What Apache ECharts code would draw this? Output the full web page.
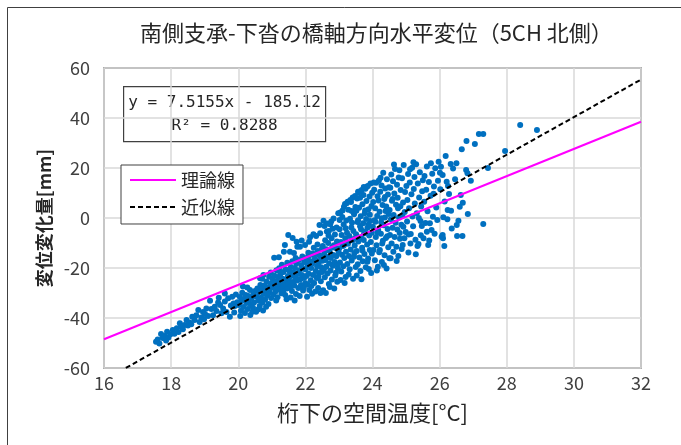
<!DOCTYPE html>
<html><head><meta charset="utf-8">
<script src="https://cdn.jsdelivr.net/npm/echarts@6/dist/echarts.min.js"></script>
<style>html,body{margin:0;padding:0;background:#fff}#c{width:681px;height:445px}</style>
</head><body><div id="c"></div>
<script>
const chartTitle = '南側支承-下沓の橋軸方向水平変位（5CH 北側）';
const xAxisName = '桁下の空間温度[°C]';
const yAxisName = '変位変化量[mm]';
const xTicks = [16, 18, 20, 22, 24, 26, 28, 30, 32];
const yTicks = [-60, -40, -20, 0, 20, 40, 60];
const theoryName = '理論線';
const fitName = '近似線';
const theoryLine = [[16, -48.5], [32, 38.5]];
const fitSlope = 7.5155;
const fitIntercept = -185.12;
const fitR2 = 0.8288;
const fitRange = [16.65, 32];
const obsPoints = [
[17.55,-49.5],[17.6,-48.6],[17.7,-46.4],[17.75,-48],[17.8,-47.2],[17.88,-45.5],[17.92,-47.8],[17.98,-46.5],[17.65,-50.2],[17.85,-49],
[18.05,-44.8],[18.1,-46.3],[18.17,-44.1],[18.22,-45.6],[18.26,-42.1],[18.3,-43.4],[18.35,-44.5],[18.4,-42.8],[18.46,-40.8],[18.5,-43],
[18.55,-41.8],[18.6,-42.5],[18.63,-39.5],[18.7,-40.8],[18.75,-38.9],[18.81,-36.8],[18.85,-41.6],[18.9,-39.8],[18.95,-37.6],[18.98,-40.5],
[19.01,-38.4],[19.05,-36.2],[19.1,-39.2],[19.16,-33.1],[19.2,-36.4],[19.25,-38.9],[19.3,-35.5],[19.35,-37.2],[19.4,-33.8],[19.46,-34.8],[19.5,-38.1],[19.42,-31.9],
[19.55,-36.2],[19.6,-33.4],[19.65,-37.6],[19.7,-32.1],[19.75,-39.5],[19.78,-35],[19.82,-31.5],[19.86,-34.2],[19.9,-35.2],[19.93,-30.6],[19.97,-33.7],[19.6,-30.2],[19.88,-37.8],
[20.02,-34.8],[20.05,-31.6],[20.08,-37.1],[20.1,-33.2],[20.12,-29.9],[20.15,-35.6],[20.18,-32.4],[20.2,-38],[20.22,-30.8],[20.25,-34],[20.28,-36.4],[20.3,-31.2],[20.32,-33.6],[20.35,-28.8],[20.38,-35],[20.4,-32],[20.42,-37.5],[20.45,-30.4],[20.47,-33.8],[20.5,-29.2],[20.36,-38.8],[20.14,-27.4],[20.27,-27.8],[20.44,-35.9],[20.06,-39.2],
[20.53,-37.5],[20.55,-31.5],[20.57,-28.2],[20.6,-33],[20.62,-29.6],[20.64,-35.2],[20.66,-26.8],[20.68,-31.9],[20.7,-28.5],[20.72,-33.8],[20.75,-22.8],[20.76,-30.3],[20.78,-27.1],[20.8,-32.6],[20.82,-29],[20.84,-25.4],[20.86,-31],[20.88,-27.7],[20.9,-34.4],[20.92,-23.5],[20.94,-29.8],[20.96,-26.2],[20.98,-32],[20.59,-36.6],[20.71,-24.3],[20.83,-35.5],[20.91,-28.3],[20.65,-24.1],[20.97,-21.8],[20.74,-37],
[21.01,-27.9],[21.03,-24.5],[21.05,-30.6],[21.07,-15.9],[21.08,-23.1],[21.1,-26.8],[21.12,-29.3],[21.14,-20.9],[21.15,-25.4],[21.17,-31.7],[21.19,-23.7],[21.2,-27.4],[21.22,-20.1],[21.24,-28.5],[21.25,-22.5],[21.27,-25.9],[21.29,-30.1],[21.3,-18.7],[21.32,-24.3],[21.33,-27.6],[21.35,-21.6],[21.37,-26.4],[21.39,-10.8],[21.4,-30.8],[21.41,-20.5],[21.43,-24.8],[21.45,-28.2],[21.46,-17.9],[21.48,-23.2],[21.49,-6.8],[21.5,-26.5],[21.13,-33],[21.21,-15.7],[21.36,-13.5],[21.44,-32.5],[21.28,-21.9],[21.06,-26.1],[21.18,-28.4],[21.34,-29.5],
[21.51,-24.3],[21.53,-21.2],[21.54,-13.5],[21.55,-27.7],[21.57,-19.6],[21.58,-23.1],[21.6,-29.2],[21.61,-17.3],[21.63,-25.6],[21.64,-21.9],[21.66,-14],[21.67,-27],[21.69,-20],[21.7,-23.9],[21.72,-30.4],[21.73,-18.2],[21.75,-25],[21.76,-11.5],[21.78,-22.4],[21.79,-28],[21.81,-16.8],[21.82,-20.9],[21.84,-11.5],[21.85,-24.5],[21.87,-26.8],[21.88,-18.9],[21.9,-22.8],[21.91,-15.4],[21.93,-29],[21.94,-20.3],[21.96,-24],[21.97,-17.6],[21.99,-10.8],[22,-26.1],[21.56,-31.8],[21.62,-8],[21.68,-33],[21.74,-9.5],[21.83,-31.2],[21.89,-9],[21.95,-27.9],[21.71,-16],[21.59,-26],
[22.01,-20.5],[22.03,-23.2],[22.04,-16.1],[22.06,-26.7],[22.07,-18.8],[22.09,-13.9],[22.1,-22.3],[22.12,-28.8],[22.13,-17.2],[22.14,-7.7],[22.16,-24.9],[22.17,-20],[22.19,-14.7],[22.2,-30.3],[22.22,-18.1],[22.23,-22.8],[22.25,-11.9],[22.26,-26],[22.28,-16.4],[22.29,-14.5],[22.31,-21.2],[22.32,-7.2],[22.34,-24],[22.35,-19.3],[22.37,-13.2],[22.38,-28],[22.4,-17.8],[22.41,-22],[22.42,-2.8],[22.43,-15.1],[22.44,-6.1],[22.46,-25.3],[22.47,-19.7],[22.49,-12.4],[22.5,-21.6],[22.05,-31.5],[22.11,-9.5],[22.18,-27.2],[22.24,-6.5],[22.3,-29.4],[22.36,-10.6],[22.45,-30],[22.08,-15.5],[22.21,-14.2],[22.33,-17],[22.39,-23.4],[22.48,-16],
[22.51,-17.1],[22.52,-11.2],[22.54,-1.1],[22.55,-20.6],[22.56,-14.3],[22.58,-23.7],[22.59,-8.9],[22.6,-16.8],[22.62,-19.5],[22.63,-12.5],[22.64,-5.4],[22.66,-22.2],[22.67,-15.6],[22.68,-10],[22.7,-26.4],[22.71,-18.2],[22.72,-13.1],[22.74,-2.5],[22.75,-21],[22.76,-16],[22.78,-8.1],[22.79,-24.6],[22.8,-11.7],[22.82,-19.1],[22.83,-14.8],[22.84,-0.2],[22.86,-28.2],[22.87,-17.6],[22.88,-6.6],[22.9,-12],[22.91,-21.9],[22.92,-15.3],[22.94,-9.4],[22.95,-25.5],[22.96,-18.7],[22.98,1.9],[22.99,-13.6],[22.53,-28.9],[22.57,-3.2],[22.61,-30],[22.65,-2.2],[22.69,-7],[22.73,-27.6],[22.77,-1.4],[22.81,-4.3],[22.85,-10.9],[22.89,-23],[22.93,-3.8],[22.97,-20.2],[22.6,-13],[22.7,-5.2],
[23.01,-12.1],[23.02,-4.5],[23.03,-17.8],[23.04,2.2],[23.06,-9.6],[23.07,-21.4],[23.08,-6.8],[23.09,-14.7],[23.1,0.4],[23.12,-11.2],[23.13,-19.3],[23.14,-2.6],[23.15,4.5],[23.16,-16],[23.18,5.6],[23.19,-8.1],[23.2,-23.6],[23.21,-13.5],[23.22,-1],[23.24,-5.9],[23.25,-18.4],[23.26,6.5],[23.27,-10.3],[23.28,3.3],[23.3,-15.2],[23.31,-7.2],[23.32,-20.5],[23.33,-0.3],[23.35,-12.6],[23.36,6.4],[23.37,-3.8],[23.38,-17],[23.4,-9],[23.41,8.2],[23.42,-24.3],[23.43,-5.2],[23.45,1.5],[23.46,-14],[23.47,-11],[23.48,8.8],[23.5,-19.6],[23.05,-24.8],[23.11,3],[23.17,-26],[23.23,5.9],[23.29,-22.6],[23.34,7.2],[23.39,-1.9],[23.44,-8.4],[23.49,4.4],[23.02,-0.8],[23.2,-4.1],[23.38,2.8],[23.15,-10.9],[23.45,-15.5],
[23.51,-6.5],[23.52,2.9],[23.53,-13.2],[23.54,7.8],[23.55,-1.6],[23.56,-18.5],[23.57,10.5],[23.58,-9.4],[23.6,4.1],[23.61,-15.8],[23.62,10.6],[23.63,-3.3],[23.64,-21.2],[23.65,0.7],[23.66,-7.7],[23.68,11.2],[23.69,-11.9],[23.7,5.5],[23.71,-17.3],[23.72,-2.1],[23.73,9.2],[23.74,-8.8],[23.76,-14.4],[23.77,1.9],[23.78,-5.4],[23.79,11.7],[23.8,-19.7],[23.81,-0.4],[23.82,6.8],[23.84,-10.6],[23.85,-3.9],[23.86,12.8],[23.87,-16.2],[23.88,3.5],[23.9,-7],[23.91,8.6],[23.92,-12.8],[23.93,-1.2],[23.94,13.8],[23.96,-22],[23.97,4.8],[23.98,-5.9],[23.99,10.1],[23.53,-23],[23.59,10.2],[23.67,-24.5],[23.75,-6.2],[23.83,12.5],[23.89,-20.4],[23.95,-9.6],[23.57,-0.9],[23.63,8.1],[23.7,-13],[23.78,3],[23.85,-17.5],[23.92,1.3],[23.6,-8.2],[23.74,12.4],[23.88,-2.6],[23.98,-14.2],[23.66,-4.5],
[24.01,-3.5],[24.02,6.4],[24.03,-12.8],[24.05,11.3],[24.06,-0.9],[24.07,-16.9],[24.08,3.9],[24.1,-7.6],[24.11,14.1],[24.12,-10.9],[24.14,0.8],[24.15,8.7],[24.16,-19.5],[24.17,-4.8],[24.19,15],[24.2,-13.7],[24.21,2.5],[24.22,-12.8],[24.23,10.5],[24.25,-6.3],[24.26,-1.8],[24.27,13],[24.28,-17.6],[24.3,5.2],[24.31,-9.1],[24.32,18.1],[24.33,-2.9],[24.35,7.6],[24.36,-14.9],[24.37,0.2],[24.38,11.8],[24.4,-8],[24.41,4.6],[24.42,-20.2],[24.43,15.5],[24.45,-4.4],[24.46,9.4],[24.47,-11.7],[24.48,1.6],[24.5,-16.1],[24.04,14.2],[24.13,-21],[24.24,16.1],[24.34,-18.8],[24.44,-7.3],[24.09,-1.5],[24.18,7],[24.29,-10.2],[24.39,2.8],[24.49,12.3],[24.15,-5.7],[24.27,-0.1],[24.37,8.4],
[24.51,3.2],[24.52,-6.8],[24.53,12.1],[24.55,-0.5],[24.56,17.4],[24.57,-10.2],[24.58,6.9],[24.6,-3.9],[24.61,14.7],[24.62,-13.5],[24.63,1.2],[24.65,9.8],[24.66,-7.6],[24.67,19.6],[24.69,-1.9],[24.7,5.3],[24.71,-11.5],[24.73,13.3],[24.74,-4.6],[24.75,8.1],[24.77,-15.2],[24.78,16.2],[24.79,0.2],[24.8,19.1],[24.82,-8.3],[24.83,4.7],[24.84,11.2],[24.86,-2.7],[24.87,-12.4],[24.88,15.9],[24.9,-10.8],[24.91,6.2],[24.92,-3.5],[24.93,21.2],[24.95,-8.1],[24.96,2.4],[24.97,10.4],[24.99,-5.6],[24.54,-16.1],[24.64,21.4],[24.72,-17.2],[24.81,-6],[24.89,1],[24.6,7.6],[24.76,3.9],
[25.01,12.8],[25.03,-1.4],[25.04,7.2],[25.06,17.6],[25.08,-6.6],[25.09,3.9],[25.11,14.2],[25.13,-10.2],[25.14,-6.4],[25.16,9.5],[25.18,20.1],[25.19,0.6],[25.21,-3.3],[25.23,11.6],[25.25,16.4],[25.26,5.8],[25.28,-8.7],[25.3,21.5],[25.32,1.9],[25.34,-11.2],[25.35,13.8],[25.37,-10.4],[25.39,8.2],[25.41,18.3],[25.43,-1.2],[25.45,4.6],[25.47,-3.2],[25.48,10.7],[25.5,15.1],[25.07,-13.8],[25.22,22.3],[25.29,-14.5],[25.44,-6.9],[25.12,19.5],[25.38,0],
[25.52,-8.1],[25.54,6.5],[25.55,16.8],[25.58,-2],[25.6,11.3],[25.62,20.6],[25.64,2.7],[25.66,-10.8],[25.68,14.4],[25.71,-2.1],[25.73,8.9],[25.74,21.9],[25.76,-4.8],[25.78,17.7],[25.8,0.5],[25.83,12.6],[25.85,-6.3],[25.87,19.9],[25.9,4.2],[25.93,-0.8],[25.95,14.9],[25.97,22.5],[25.62,-5.5],[25.82,9.7],[25.69,-9],
[26.01,18.1],[26.04,20.5],[26.06,-7.5],[26.09,17.2],[26.09,-6.8],[26.1,-8.1],[26.11,0.3],[26.14,-11.2],[26.18,24.8],[26.21,14.5],[26.23,-0.5],[26.24,3.2],[26.28,9.6],[26.33,21.6],[26.34,2.9],[26.46,15.5],[26.5,21.9],[26.51,-2.8],[26.52,-7.2],[26.56,-1.1],[26.63,9.2],[26.66,27.5],[26.68,-7.2],[26.69,6.1],[26.79,19.2],[26.8,30.8],[26.83,17.9],[26.84,1.6],[26.93,14.9],[27.05,29.6],[27.17,33.6],[27.3,33.6],[27.3,-2.4],[27.44,20],[27.95,26.8],[28.4,37.2],[28.9,35.2],
[26.6,4.5],[26.36,-4.2],[26.02,11.5],[26.15,6.6],[26.25,12.8],[26.4,19.8]
];

const fitLine = fitRange.map(function (t) { return [t, fitSlope * t + fitIntercept]; });
const eqLine1 = 'y = ' + fitSlope.toFixed(4) + 'x - ' + Math.abs(fitIntercept).toFixed(2);
const eqLine2 = 'R² = ' + fitR2.toFixed(4);

const jp = '"Noto Sans CJK JP", "Noto Sans", sans-serif';
const chart = echarts.init(document.getElementById('c'), null, { renderer: 'canvas' });
chart.setOption({
  backgroundColor: '#ffffff',
  animation: false,
  grid: { left: 104, top: 68, width: 537, height: 300, show: true, borderColor: '#595959', borderWidth: 1.3, backgroundColor: 'transparent' },
  xAxis: {
    type: 'value', min: xTicks[0], max: xTicks[xTicks.length - 1], interval: 2,
    name: xAxisName, nameLocation: 'middle', nameGap: 34,
    nameTextStyle: { fontFamily: jp, fontSize: 22, color: '#262626' },
    axisLine: { show: false }, axisTick: { show: false },
    axisLabel: { fontFamily: jp, fontSize: 18, color: '#404040', margin: 6 },
    splitLine: { show: true, lineStyle: { color: '#d9d9d9', width: 1.5 } }
  },
  yAxis: {
    type: 'value', min: yTicks[0], max: yTicks[yTicks.length - 1], interval: 20,
    name: yAxisName, nameLocation: 'middle', nameGap: 51,
    nameTextStyle: { fontFamily: jp, fontSize: 18, fontWeight: 'bold', color: '#262626' },
    axisLine: { show: false }, axisTick: { show: false },
    axisLabel: { fontFamily: jp, fontSize: 18, color: '#404040', margin: 14 },
    splitLine: { show: true, lineStyle: { color: '#d9d9d9', width: 1.5 } }
  },
  legend: {
    data: [theoryName, fitName], orient: 'vertical', left: 121, top: 165,
    backgroundColor: '#ffffff', borderColor: '#404040', borderWidth: 1, borderRadius: 0,
    padding: [6, 8, 8, 8], itemWidth: 46, itemHeight: 18, itemGap: 9,
    itemStyle: { opacity: 0 },
    textStyle: { fontFamily: jp, fontSize: 18, color: '#262626' }
  },
  graphic: [
    { type: 'line', silent: true, z: 0, shape: { x1: 7.5, y1: 7.5, x2: 681, y2: 7.5 }, style: { stroke: '#404040', lineWidth: 1 } },
    { type: 'line', silent: true, z: 0, shape: { x1: 7.5, y1: 7.5, x2: 7.5, y2: 445 }, style: { stroke: '#404040', lineWidth: 1 } },
    { type: 'text', left: 140, top: 22, z: 10,
      style: { text: chartTitle, font: '22px ' + jp, fill: '#262626' } },
    { type: 'group', left: 123, top: 86, z: 10, children: [
      { type: 'rect', shape: { x: 0, y: 0, width: 202, height: 55 }, style: { fill: '#ffffff', stroke: '#404040', lineWidth: 1.2 } },
      { type: 'text', x: 101, y: 16, style: { text: eqLine1, font: '16px "DejaVu Sans Mono", monospace', fill: '#262626', textAlign: 'center', textVerticalAlign: 'middle' } },
      { type: 'text', x: 101, y: 39, style: { text: eqLine2, font: '16px "DejaVu Sans Mono", monospace', fill: '#262626', textAlign: 'center', textVerticalAlign: 'middle' } }
    ] }
  ],
  series: [
    { name: '実測値', type: 'scatter', data: obsPoints, symbol: 'circle', symbolSize: 6,
      itemStyle: { color: '#0070c0', opacity: 1 }, z: 2 },
    { name: theoryName, type: 'line', data: theoryLine, symbol: 'none', showSymbol: false,
      lineStyle: { color: '#ff00ff', width: 2 }, itemStyle: { color: '#ff00ff' }, z: 3 },
    { name: fitName, type: 'line', data: fitLine, symbol: 'none', showSymbol: false,
      lineStyle: { color: '#000000', width: 2, type: [5, 3] }, itemStyle: { color: '#000000' }, z: 4 }
  ]
});
</script>
</body></html>
